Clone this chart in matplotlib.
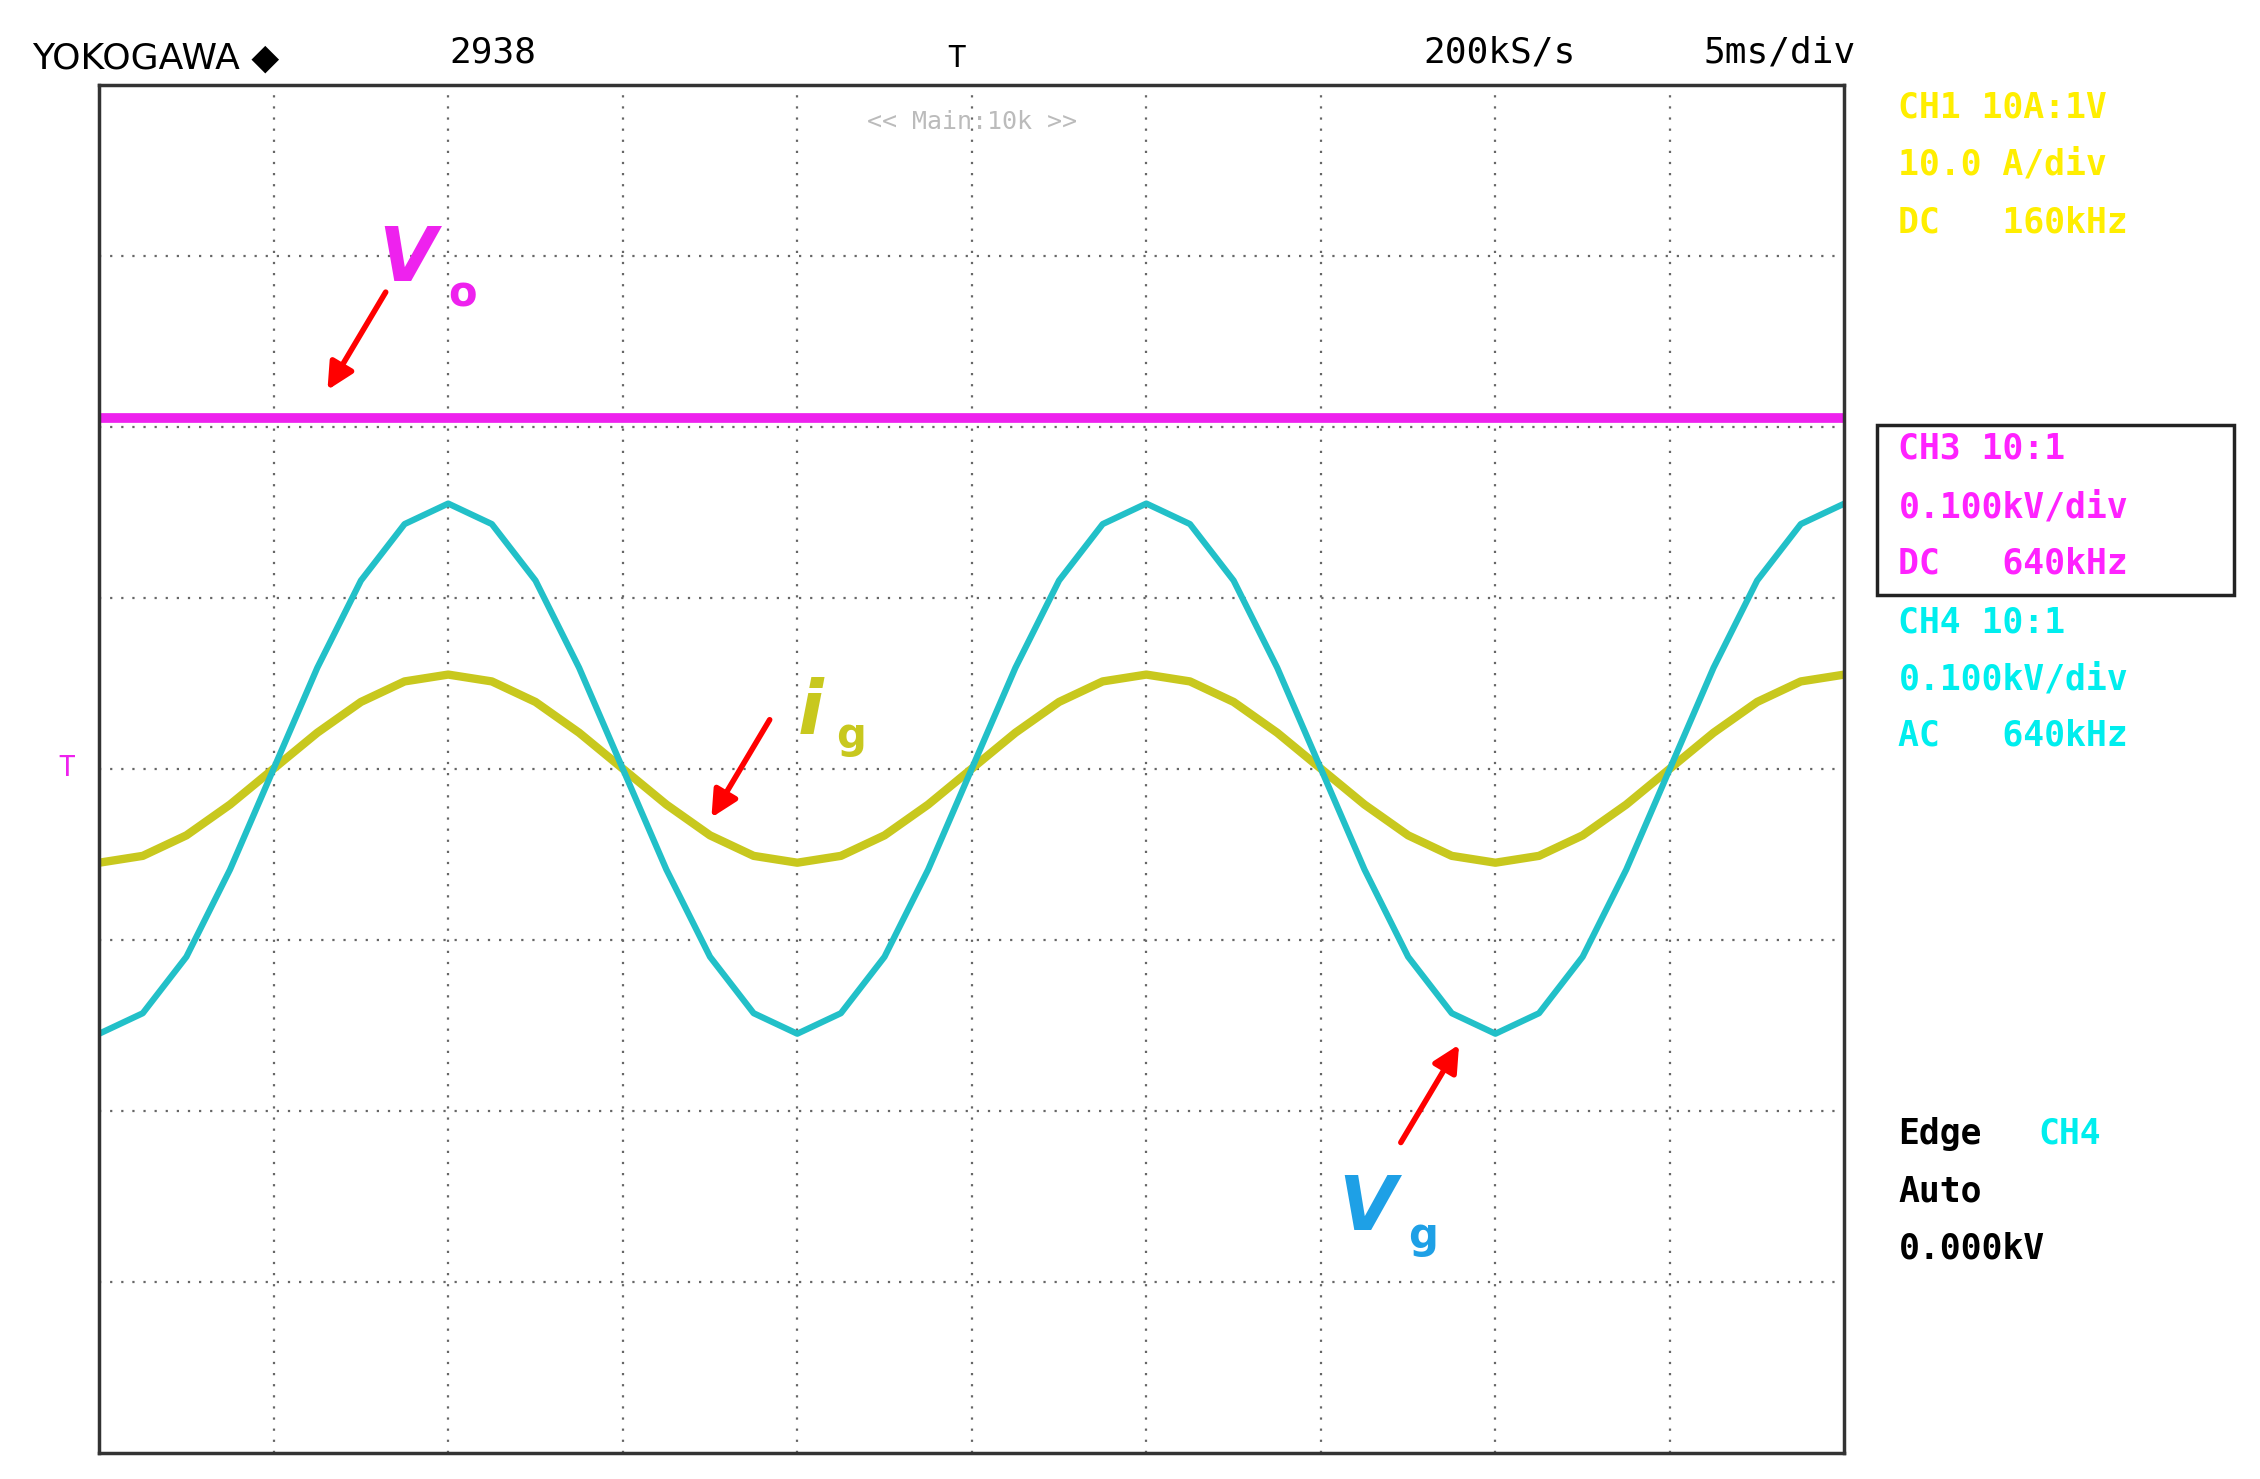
import matplotlib
matplotlib.use("Agg")
import matplotlib.pyplot as plt
from matplotlib.patches import Rectangle

# time in divisions (5 ms/div), samples every 0.25 div
t_div = [i * 0.25 for i in range(41)]
vg_div = [-1.55,-1.43,-1.10,-0.59,0.0,0.59,1.10,1.43,1.55,1.43,1.10,0.59,0.0,-0.59,-1.10,-1.43,
          -1.55,-1.43,-1.10,-0.59,0.0,0.59,1.10,1.43,1.55,1.43,1.10,0.59,0.0,-0.59,-1.10,-1.43,
          -1.55,-1.43,-1.10,-0.59,0.0,0.59,1.10,1.43,1.55]
ig_div = [-0.55,-0.51,-0.39,-0.21,0.0,0.21,0.39,0.51,0.55,0.51,0.39,0.21,0.0,-0.21,-0.39,-0.51,
          -0.55,-0.51,-0.39,-0.21,0.0,0.21,0.39,0.51,0.55,0.51,0.39,0.21,0.0,-0.21,-0.39,-0.51,
          -0.55,-0.51,-0.39,-0.21,0.0,0.21,0.39,0.51,0.55]
vo_div = 2.05

W, H = 1550, 1015
fig = plt.figure(figsize=(22.6, 14.79), dpi=100)
fig.patch.set_facecolor("white")
def fx(x): return x / W
def fy(y): return 1 - y / H

ax = fig.add_axes([fx(68), fy(997), fx(1265) - fx(68), fy(58) - fy(997)])
ax.set_xlim(0, 10)
ax.set_ylim(-4, 4)
ax.set_xticks([]); ax.set_yticks([])
for s in ax.spines.values():
    s.set_linewidth(2.5); s.set_color("#333333")
for x in range(1, 10):
    ax.axvline(x, color="#666666", ls=(0, (1, 4)), lw=1.6)
for y in range(-3, 4):
    ax.axhline(y, color="#666666", ls=(0, (1, 4)), lw=1.6)

ax.axhline(vo_div, color="#ee22ee", lw=7)
ax.plot(t_div, ig_div, color="#c8c81e", lw=6, solid_joinstyle="round")
ax.plot(t_div, vg_div, color="#22c0c8", lw=4.5, solid_joinstyle="round")

# annotations
ax.annotate("", xy=(1.3, 2.2), xytext=(1.65, 2.8),
            arrowprops=dict(arrowstyle="-|>", color="red", lw=4, mutation_scale=40))
ax.annotate("", xy=(3.5, -0.3), xytext=(3.85, 0.3),
            arrowprops=dict(arrowstyle="-|>", color="red", lw=4, mutation_scale=40))
ax.annotate("", xy=(7.8, -1.6), xytext=(7.45, -2.2),
            arrowprops=dict(arrowstyle="-|>", color="red", lw=4, mutation_scale=40))
ax.text(1.6, 2.85, "V", color="#ee22ee", fontsize=54, fontweight="bold", style="italic")
ax.text(2.0, 2.7, "o", color="#ee22ee", fontsize=30, fontweight="bold")
ax.text(4.0, 0.2, "i", color="#c8c81e", fontsize=54, fontweight="bold", style="italic")
ax.text(4.22, 0.12, "g", color="#c8c81e", fontsize=30, fontweight="bold")
ax.text(7.1, -2.7, "V", color="#1ea0e6", fontsize=54, fontweight="bold", style="italic")
ax.text(7.5, -2.8, "g", color="#1ea0e6", fontsize=30, fontweight="bold")
ax.text(5, 3.85, "<< Main:10k >>", color="#bbbbbb", fontsize=18, family="DejaVu Sans Mono",
        ha="center", va="top")

mono = "DejaVu Sans Mono"
fig.text(fx(22), fy(40), "YOKOGAWA \u25c6", fontsize=26, va="center", family="DejaVu Sans")
fig.text(fx(308), fy(36), "2938", fontsize=26, va="center", family=mono)
fig.text(fx(976), fy(36), "200kS/s", fontsize=26, va="center", family=mono)
fig.text(fx(1168), fy(36), "5ms/div", fontsize=26, va="center", family=mono)
fig.text(fx(650), fy(40), "T", fontsize=22, va="center", family=mono)

yel, mag, cyn = "#ffee00", "#ff22ff", "#00eeee"
rows = [("CH1 10A:1V", yel, 74), ("10.0 A/div", yel, 113), ("DC   160kHz", yel, 153),
        ("CH3 10:1", mag, 308), ("0.100kV/div", mag, 348), ("DC   640kHz", mag, 387),
        ("CH4 10:1", cyn, 427), ("0.100kV/div", cyn, 466), ("AC   640kHz", cyn, 505),
        ("Auto", "black", 818), ("0.000kV", "black", 857)]
for txt, c, y in rows:
    fig.text(fx(1302), fy(y), txt, color=c, fontsize=25, va="center", family=mono, fontweight="bold")
fig.text(fx(1302), fy(778), "Edge", color="black", fontsize=25, va="center", family=mono, fontweight="bold")
fig.text(fx(1398), fy(778), "CH4", color=cyn, fontsize=25, va="center", family=mono, fontweight="bold")
fig.patches.append(Rectangle((fx(1287), fy(408)), fx(1532) - fx(1287), fy(292) - fy(408),
                             transform=fig.transFigure, fill=False, lw=2.5, ec="#222222"))
fig.text(fx(40), fy(527), "T", color="#ee22ee", fontsize=20, va="center", family=mono)

fig.savefig("out.png", dpi=100)
